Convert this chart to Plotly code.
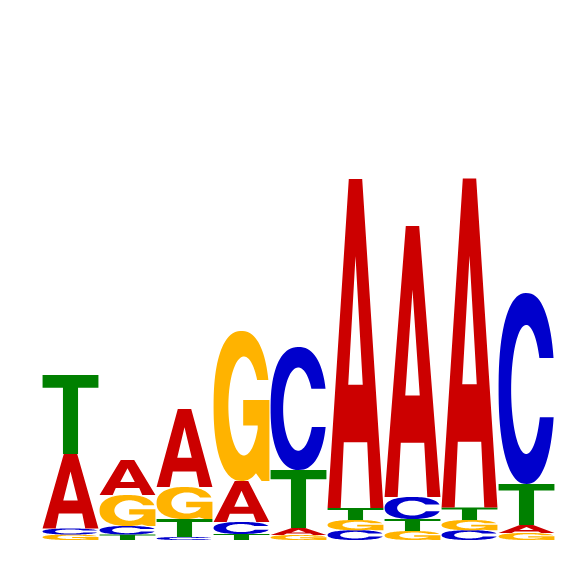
import numpy as np
import plotly.graph_objects as go

# ---- data: information content (bits) per base, per position ----
positions = [1, 2, 3, 4, 5, 6, 7, 8, 9]
A = [0.3725, 0.175, 0.390, 0.205, 0.035, 1.645, 1.355, 1.645, 0.040]
C = [0.030, 0.0425, 0.015, 0.060, 0.615, 0.049, 0.110, 0.049, 0.955]
G = [0.0275, 0.155, 0.160, 0.750, 0.025, 0.051, 0.045, 0.051, 0.035]
T = [0.395, 0.0275, 0.090, 0.030, 0.290, 0.060, 0.060, 0.0625, 0.205]

colors = {"A": "#CC0000", "C": "#0000CC", "G": "#FFB300", "T": "#008000"}


# ---- glyph templates in a unit box ----
def sarc(cx, cy, rx, ry, t0, t1, n=2.0, N=80):
    t = np.radians(np.linspace(t0, t1, N))
    c, s = np.cos(t), np.sin(t)
    x = cx + rx * np.sign(c) * np.abs(c) ** (2 / n)
    y = cy + ry * np.sign(s) * np.abs(s) ** (2 / n)
    return list(zip(x, y))


def t_at_y(cy, ry, y, n):
    v = abs(y - cy) / ry
    return np.degrees(np.arcsin(min(v, 1) ** (n / 2)))


def t_at_x(cx, rx, x, n):
    u = abs(x - cx) / rx
    return np.degrees(np.arccos(min(u, 1) ** (n / 2)))


def glyph_A():
    outer = [(0, 0), (0.38, 1), (0.62, 1), (1, 0), (0.765, 0), (0.71, 0.20),
             (0.29, 0.20), (0.235, 0)]
    hole = [(0.37, 0.375), (0.63, 0.375), (0.5, 0.765)]
    return [outer, hole]


def glyph_T():
    return [[(0, 1), (1, 1), (1, 0.84), (0.635, 0.84), (0.635, 0), (0.365, 0),
             (0.365, 0.84), (0, 0.84)]]


def glyph_C():
    no, ni = 2.3, 2.0
    to_top = t_at_y(0.5, 0.5, 0.66, no)
    to_bot = t_at_y(0.5, 0.5, 0.35, no)
    ti_top = t_at_y(0.495, 0.338, 0.66, ni)
    ti_bot = t_at_y(0.495, 0.338, 0.35, ni)
    outer = sarc(0.5, 0.5, 0.5, 0.5, to_top, 360 - to_bot, no)
    inner = sarc(0.495, 0.495, 0.27, 0.338, 360 - ti_bot, ti_top, ni)
    return [outer + inner]


def glyph_G():
    no, ni = 2.3, 2.0
    to_top = t_at_y(0.5, 0.5, 0.673, no)
    outer = sarc(0.5, 0.5, 0.5, 0.5, to_top, 298, no)
    stem = [(0.86, 0.0), (1.0, 0.0), (1.0, 0.54), (0.53, 0.54), (0.53, 0.37),
            (0.79, 0.37)]
    tb = -t_at_x(0.543, 0.278, 0.79, ni)
    ti_top = t_at_y(0.5, 0.33, 0.673, ni)
    inner = sarc(0.543, 0.5, 0.278, 0.33, tb, -(360 - ti_top), ni)
    return [outer + stem + inner]


glyphs = {"A": glyph_A(), "C": glyph_C(), "G": glyph_G(), "T": glyph_T()}


def glyph_path(letter, x0, x1, y0, y1):
    parts = []
    for poly in glyphs[letter]:
        pts = [(x0 + u * (x1 - x0), y0 + v * (y1 - y0)) for u, v in poly]
        s = "M " + " L ".join(f"{x:.5f},{y:.6f}" for x, y in pts) + " Z"
        parts.append(s)
    return " ".join(parts)


shapes = []
for i, pos in enumerate(positions):
    heights = {"A": A[i], "C": C[i], "G": G[i], "T": T[i]}
    order = sorted(heights, key=lambda k: heights[k])
    base = 0.0
    for letter in order:
        h = heights[letter]
        shapes.append(dict(
            type="path", xref="x", yref="y",
            path=glyph_path(letter, pos - 0.49, pos + 0.49, base, base + h),
            fillcolor=colors[letter], line=dict(width=0), fillrule="evenodd",
            layer="above"))
        base += h

fig = go.Figure()
fig.add_trace(go.Scatter(x=positions, y=[0] * len(positions), mode="markers",
                         marker=dict(opacity=0), hoverinfo="skip",
                         showlegend=False))

# page body adds an 8px offset; compensate in axis ranges
px_per_col = 57.0
xa = 0.5 - 34 / px_per_col
xb = xa + 566 / px_per_col
px_per_bit = 200.0
y_top = 532 / px_per_bit
y_bot = y_top - 566 / px_per_bit
fig.update_layout(
    width=566, height=566,
    margin=dict(l=0, r=0, t=0, b=0),
    paper_bgcolor="white", plot_bgcolor="white",
    shapes=shapes,
    xaxis=dict(range=[xa, xb], visible=False, fixedrange=True),
    yaxis=dict(range=[y_bot, y_top], visible=False, fixedrange=True),
    showlegend=False,
)
fig.write_html("out.html")
